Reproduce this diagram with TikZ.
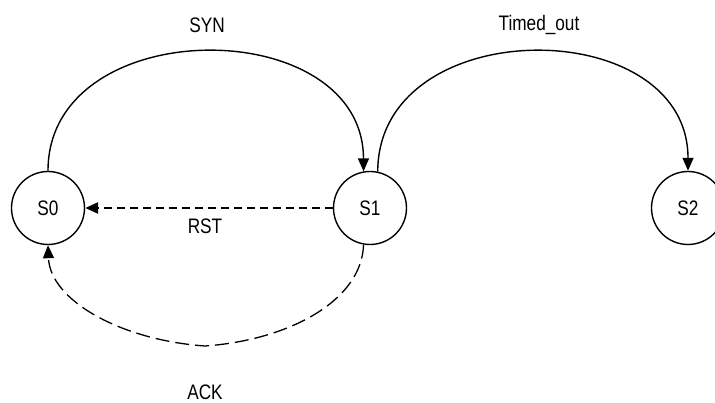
\documentclass[tikz,border=0pt]{standalone}
\usepackage{fontspec}
\setmainfont[FakeStretch=0.82]{Liberation Sans}
\usetikzlibrary{arrows.meta}
\begin{document}
\begin{tikzpicture}[x=1pt,y=-1pt,
  font=\fontsize{21}{25}\selectfont,
  state/.style={draw,circle,minimum size=73pt,inner sep=0pt,line width=1.4pt},
  lbl/.style={inner sep=0pt},
  tip/.style={-{Triangle[length=13pt,width=11pt]}},
  solidarc/.style={tip,line width=1.4pt},
  rstline/.style={tip,line width=2.4pt,dash pattern=on 8pt off 5pt},
  ackline/.style={tip,line width=1.3pt,dash pattern=on 14pt off 6pt}]
\useasboundingbox (0,0) rectangle (715,403);
\node[state] (s0) at (48,208) {S0};
\node[state] (s1) at (370,208) {S1};
\node[state] (s2) at (688,208) {S2};
\draw[solidarc] (s0.90) .. controls (48,12) and (363,12) .. (s1.100);
\draw[solidarc] (s1.78) .. controls (378,12) and (688,12) .. (s2.90);
\draw[rstline] (s1.west) -- (s0.east);
\coordinate (ackb) at (205,346);
\draw[ackline] (s1.-100) .. controls (362,300) and (290,340) .. (ackb)
   .. controls (120,340) and (50,300) .. (s0.south);
\node[lbl] (syn) at (207,25) {SYN};
\node[lbl] (tout) at (539,25) {Timed\_out};
\node[lbl] (rst) at (205,226) {RST};
\node[lbl] (ack) at (205,392) {ACK};
\end{tikzpicture}
\end{document}
